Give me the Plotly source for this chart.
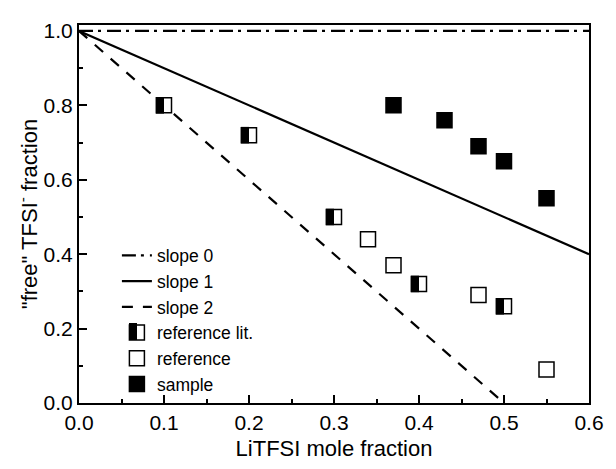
import plotly.graph_objects as go

# ---- data ----
slope0_x = [0.0, 0.6]
slope0_y = [1.0, 1.0]
slope1_x = [0.0, 0.6]
slope1_y = [1.0, 0.4]
slope2_x = [0.0, 0.5]
slope2_y = [1.0, 0.0]

ref_lit_x = [0.10, 0.20, 0.30, 0.40, 0.50]
ref_lit_y = [0.80, 0.72, 0.50, 0.32, 0.26]

ref_x = [0.34, 0.37, 0.47, 0.55]
ref_y = [0.44, 0.37, 0.29, 0.09]

sample_x = [0.37, 0.43, 0.47, 0.50, 0.55]
sample_y = [0.80, 0.76, 0.69, 0.65, 0.55]

x_ticks = [0.0, 0.1, 0.2, 0.3, 0.4, 0.5, 0.6]
x_ticklabels = ["0.0", "0.1", "0.2", "0.3", "0.4", "0.5", "0.6"]
y_ticks = [0.0, 0.2, 0.4, 0.6, 0.8, 1.0]
y_ticklabels = ["0.0", "0.2", "0.4", "0.6", "0.8", "1.0"]

FONT = "Liberation Sans, Arial, sans-serif"
MS = 15
MLW = 1.5
HALF_SIDE = MS / 2 + MLW / 2
LEG_FS = 17.5

fig = go.Figure()
fig.add_trace(go.Scatter(x=slope0_x, y=slope0_y, mode="lines", name="slope 0",
                         line=dict(color="black", width=2.2, dash="14px,5px,3px,6px")))
fig.add_trace(go.Scatter(x=slope1_x, y=slope1_y, mode="lines", name="slope 1",
                         line=dict(color="black", width=2.2)))
fig.add_trace(go.Scatter(x=slope2_x, y=slope2_y, mode="lines", name="slope 2",
                         line=dict(color="black", width=2.2, dash="11px,10px")))
fig.add_trace(go.Scatter(x=ref_lit_x, y=ref_lit_y, mode="markers", name="reference lit.",
                         marker=dict(symbol="square", size=MS, color="white",
                                     line=dict(color="black", width=MLW))))
fig.add_trace(go.Scatter(x=ref_x, y=ref_y, mode="markers", name="reference",
                         marker=dict(symbol="square", size=MS, color="white",
                                     line=dict(color="black", width=MLW))))
fig.add_trace(go.Scatter(x=sample_x, y=sample_y, mode="markers", name="sample",
                         marker=dict(symbol="square", size=MS, color="black",
                                     line=dict(color="black", width=MLW))))

HALF = dict(type="rect", xsizemode="pixel", ysizemode="pixel",
            x0=-HALF_SIDE, x1=0, y0=-HALF_SIDE, y1=HALF_SIDE,
            fillcolor="black", line=dict(width=0), layer="above")

# black left halves of the "reference lit." markers
for xv, yv in zip(ref_lit_x, ref_lit_y):
    fig.add_shape(xref="x", yref="y", xanchor=xv, yanchor=yv, **HALF)

LEG_X = (117 - 78.5) / 518
LEG_Y = (406.5 - 239) / 382.5
ROW = 25.5
FIRST = 18

# black left half of the "reference lit." legend symbol (drawn above the legend)
fig.add_annotation(x=LEG_X, y=LEG_Y, xref="paper", yref="paper",
                   text="\u00a0", showarrow=False, width=HALF_SIDE, height=2 * HALF_SIDE,
                   bgcolor="black", borderpad=0, borderwidth=0,
                   font=dict(size=2, color="black"), xanchor="center", yanchor="middle",
                   xshift=20 - HALF_SIDE / 2, yshift=-(FIRST + 3 * ROW))

fig.update_layout(
    width=616, height=469,
    margin=dict(l=78.5, r=19.5, t=25, b=62.5),
    paper_bgcolor="white", plot_bgcolor="white",
    font=dict(family=FONT, size=19, color="black"),
    showlegend=True,
    legend=dict(x=LEG_X, y=LEG_Y, xanchor="left", yanchor="top",
                bgcolor="rgba(0,0,0,0)", font=dict(size=LEG_FS, family=FONT),
                tracegroupgap=0),
    xaxis=dict(range=[0, 0.6], tickvals=x_ticks, ticktext=x_ticklabels,
               ticks="inside", ticklen=8, tickwidth=1.5, tickcolor="black",
               showline=True, linewidth=2, linecolor="black", mirror=True,
               showgrid=False, zeroline=False,
               minor=dict(ticks="inside", ticklen=4, tickwidth=1.5, tickcolor="black", dtick=0.05),
               title=dict(text="LiTFSI mole fraction", font=dict(size=22, family=FONT), standoff=7),
               tickfont=dict(size=21, family=FONT)),
    yaxis=dict(range=[0, 1.016], tickvals=y_ticks, ticktext=y_ticklabels,
               ticks="inside", ticklen=8, tickwidth=1.5, tickcolor="black",
               showline=True, linewidth=2, linecolor="black", mirror=True,
               showgrid=False, zeroline=False,
               minor=dict(ticks="inside", ticklen=4, tickwidth=1.5, tickcolor="black", dtick=0.1),
               title=dict(text='"free" TFSI<sup>-</sup> fraction', font=dict(size=22, family=FONT), standoff=0),
               tickfont=dict(size=21, family=FONT)),
)

fig.write_html("out.html", config={"displayModeBar": False},
               post_script="document.body.style.margin='0';document.body.style.padding='0';")
